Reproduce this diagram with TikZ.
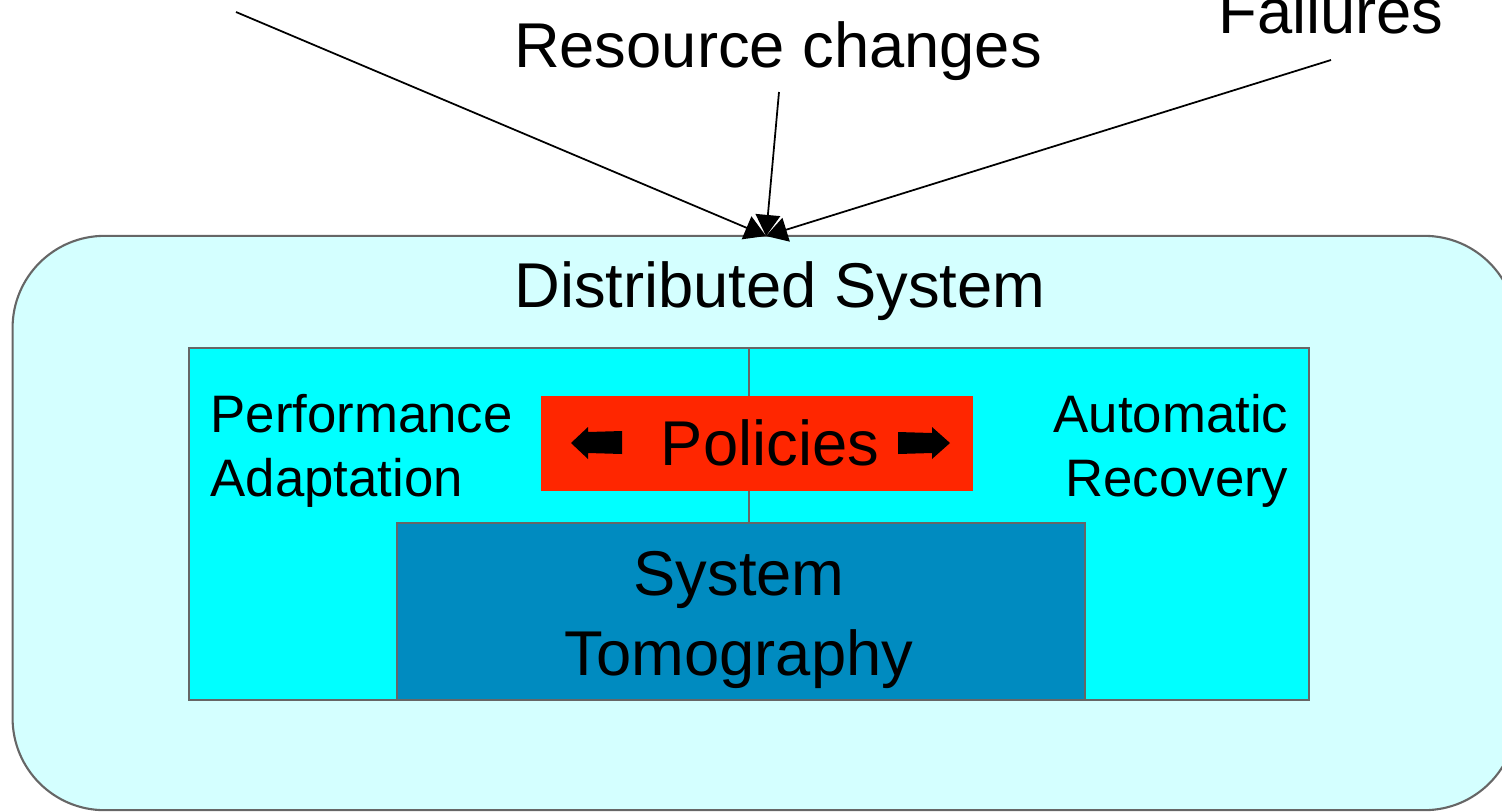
\documentclass[tikz,border=0pt]{standalone}
\usepackage{fontspec}
\setmainfont{Liberation Sans}
\usetikzlibrary{arrows.meta}
\definecolor{outerfill}{HTML}{D4FFFF}
\definecolor{panelfill}{HTML}{00FFFF}
\definecolor{policyred}{HTML}{FF2600}
\definecolor{tomoblue}{HTML}{008BC0}
\definecolor{edgegray}{HTML}{666666}
\tikzset{
  box/.style={draw=edgegray, line width=0.6pt, inner sep=0pt},
  bigtext/.style={font=\fontsize{18}{22.5}\selectfont},
  smalltext/.style={font=\fontsize{15}{18.2}\selectfont, inner sep=0pt},
  feed/.style={-{Triangle[length=6pt,width=7pt]}, line width=0.5pt}
}
\begin{document}
\begin{tikzpicture}[x=0.01cm, y=-0.01cm]
			\useasboundingbox (0,0) rectangle (1502,811);
			
			\node[box, fill=outerfill, rounded corners=0.92cm, minimum width=15.03cm, minimum height=5.74cm](dsys) at (764.5,523) {};
			\node[box, fill=panelfill, minimum width=5.6cm, minimum height=3.52cm](perf) at (469,524) {};
			\node[box, fill=panelfill, minimum width=5.6cm, minimum height=3.52cm](recov) at (1029,524) {};
			\node[fill=policyred, inner sep=0pt, minimum width=4.32cm, minimum height=0.95cm](pol) at (757,443.5) {};
			\node[box, fill=tomoblue, minimum width=6.88cm, minimum height=1.77cm](tomo) at (741,611.5) {};
			
			\node[bigtext, anchor=base](dstext) at (780,307) {Distributed System};
			\node[smalltext, align=left, anchor=west](perftext) at (210,451) {Performance\\Adaptation};
			\node[smalltext, align=right, anchor=east](recovtext) at (1289,451) {Automatic\\Recovery};
			\node[bigtext, anchor=base](poltext) at (770,465) {Policies};
			\node[bigtext, align=center](tomotext) at (739,620) {System\\Tomography};
			
			\fill (571,443) -- (588,427) -- (588,432) -- (622,431) -- (622,454) -- (588,453) -- (588,459) -- cycle;
			\fill (950,443) -- (932,427) -- (932,433) -- (898,432) -- (898,454) -- (932,453) -- (932,459) -- cycle;
			
			\node[bigtext, anchor=base](restext) at (778,67) {Resource changes};
			\node[bigtext, anchor=base](failtext) at (1331,33) {Failures};
			
			\coordinate[](entry) at (766,236);
			\coordinate[](src1) at (236,12);
			\coordinate[](src2) at (779,92);
			\coordinate[](src3) at (1331,60);
			
			\draw[feed](src1) -- (entry);
			\draw[feed](src2) -- (entry);
			\draw[feed](src3) -- (entry);
\end{tikzpicture}
\end{document}
